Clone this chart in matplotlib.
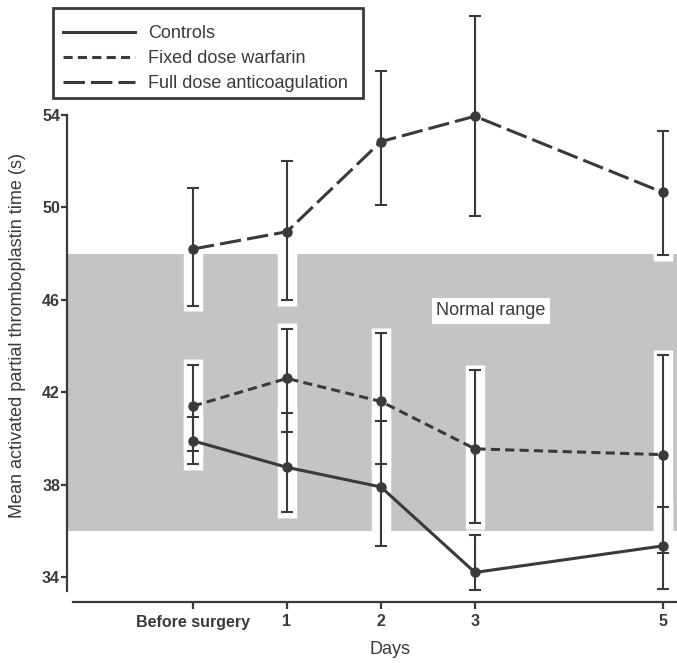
import matplotlib
matplotlib.use("Agg")
import matplotlib.pyplot as plt
from matplotlib.patches import Rectangle

plt.rcParams['font.family'] = ['Liberation Sans', 'DejaVu Sans']

# x positions in days (before surgery = 0, day 4 not measured)
days = [0, 1, 2, 3, 5]
day_labels = ['Before surgery', '1', '2', '3', '5']

# mean APTT (s) and error bar ends
controls = [39.9, 38.75, 37.9, 34.2, 35.35]
controls_lo = [38.9, 36.8, 35.35, 33.45, 33.5]
controls_hi = [40.95, 41.1, 40.75, 35.8, 37.05]

warfarin = [41.4, 42.6, 41.6, 39.55, 39.3]
warfarin_lo = [39.45, 40.3, 38.9, 36.35, 35.05]
warfarin_hi = [43.2, 44.75, 44.55, 42.95, 43.6]

fulldose = [48.2, 48.95, 52.85, 53.95, 50.65]
fulldose_lo = [45.75, 46.0, 50.1, 49.65, 47.95]
fulldose_hi = [50.85, 52.0, 55.9, 58.3, 53.3]

normal_range = (36, 48)

ink = '#3a3a3a'

fig = plt.figure(figsize=(6.77, 6.63), dpi=100)
ax = fig.add_axes([67/677, 61/663, 610/677, 602/663])
ax.set_xlim(-1.34, 5.15)
ax.set_ylim(32.92, 58.98)

# normal range band
ax.axhspan(normal_range[0], normal_range[1], xmin=0, xmax=1, color='#c4c4c4', lw=0, zorder=1)

series = [
    (controls, controls_lo, controls_hi, 'Controls', (None, None)),
    (warfarin, warfarin_lo, warfarin_hi, 'Fixed dose warfarin', (3, 1.7)),
    (fulldose, fulldose_lo, fulldose_hi, 'Full dose anticoagulation', (7, 2)),
]

handles = []
for vals, lo, hi, name, dash in series:
    # white gap cut into the band around each error bar
    ax.vlines(days, [l - 0.25 for l in lo], [h + 0.25 for h in hi],
              color='white', lw=14, zorder=1.5)
    err = [[v - l for v, l in zip(vals, lo)], [h - v for v, h in zip(vals, hi)]]
    ax.errorbar(days, vals, yerr=err, fmt='none', ecolor=ink, elinewidth=1.5,
                capsize=4.5, capthick=1.5, zorder=2.5)
    line, = ax.plot(days, vals, color=ink, lw=2.2, marker='o', markersize=6.5,
                    zorder=3, label=name)
    if dash[0] is not None:
        line.set_dashes(dash)
    handles.append(line)

ax.text(3.17, 45.52, 'Normal range', ha='center', va='center', fontsize=13,
        color=ink, zorder=4,
        bbox=dict(facecolor='white', edgecolor='none', pad=3))

for s in ['top', 'right']:
    ax.spines[s].set_visible(False)
ax.spines['left'].set_bounds(33.4, 54)
ax.spines['bottom'].set_bounds(-1.28, 5.15)
for s in ['left', 'bottom']:
    ax.spines[s].set_color(ink)
    ax.spines[s].set_linewidth(1.6)

ax.set_yticks([34, 38, 42, 46, 50, 54])
ax.set_xticks(days)
ax.set_xticklabels(day_labels)
ax.tick_params(axis='y', direction='out', length=4, width=1.6, color=ink,
               labelsize=11.5, labelcolor=ink, pad=1)
ax.tick_params(axis='x', direction='out', length=5, width=1.6, color=ink,
               labelsize=11.5, labelcolor=ink, pad=4)
for t in ax.get_yticklabels() + ax.get_xticklabels():
    t.set_fontweight('bold')

fig.text(18/677, 1 - 335/663, 'Mean activated partial thromboplastin time (s)',
         rotation=90, ha='center', va='center', fontsize=13, color=ink)
fig.text(390/677, 1 - 650/663, 'Days', ha='center', va='center', fontsize=13, color=ink)

# legend without its own frame, boxed by a rectangle drawn on the figure
leg = fig.legend(handles=handles, loc='upper left',
                 bbox_to_anchor=(53/677, 1 - 15/663), borderaxespad=0,
                 frameon=False, fontsize=13,
                 handlelength=4.0, labelspacing=0.45, borderpad=0.55,
                 handletextpad=0.7)
for h in leg.legend_handles:
    h.set_marker('')
for txt in leg.get_texts():
    txt.set_color(ink)
fig.patches.append(Rectangle((53/677, 1 - 98/663), 310/677, 90/663,
                             transform=fig.transFigure, fill=False,
                             edgecolor=ink, lw=2))

fig.savefig('out.png', dpi=100)
